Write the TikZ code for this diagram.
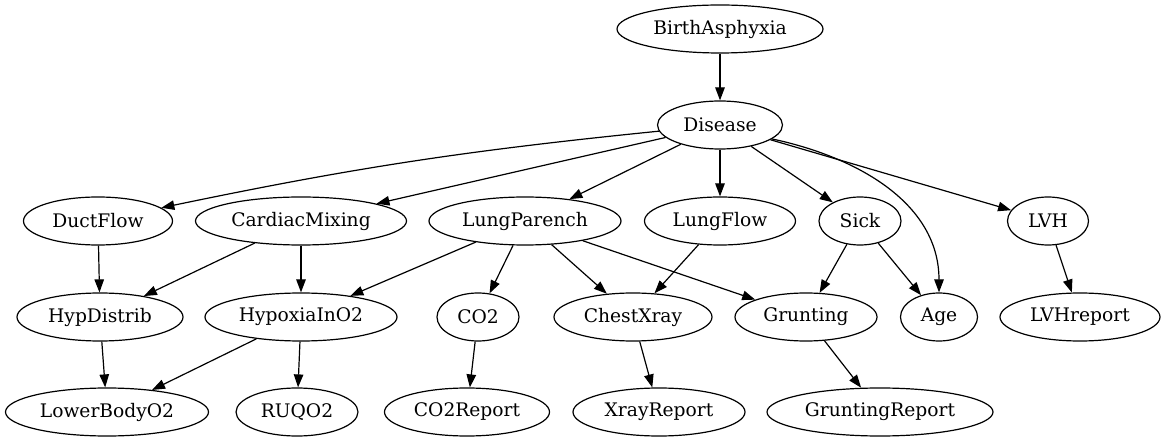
\documentclass[tikz,border=0pt]{standalone}
\usepackage{fontspec}
\setmainfont{DejaVu Serif}
\usetikzlibrary{shapes.geometric,arrows.meta}
\begin{document}
\begin{tikzpicture}[x=1pt,y=-1pt,
  nd/.style={draw, ellipse, inner sep=0pt, minimum height=48pt, font=\fontsize{18.67}{20}\selectfont, line width=1.2pt},
  ed/.style={draw, line width=1.2pt, -{Triangle[length=13pt,width=9.5pt]}}]
\useasboundingbox (0,0) rectangle (1164,443);
\node[nd, minimum width=206pt] (ba) at (720,29) {BirthAsphyxia};
\node[nd, minimum width=125pt] (dis) at (720,125) {Disease};
\node[nd, minimum width=149pt] (duct) at (98,221) {DuctFlow};
\node[nd, minimum width=211pt] (card) at (301,221) {CardiacMixing};
\node[nd, minimum width=192pt] (lp) at (525,221) {LungParench};
\node[nd, minimum width=151pt] (lf) at (720,221) {LungFlow};
\node[nd, minimum width=82pt] (sick) at (860,221) {Sick};
\node[nd, minimum width=81pt] (lvh) at (1048,221) {LVH};
\node[nd, minimum width=166pt] (hd) at (100,317) {HypDistrib};
\node[nd, minimum width=192pt] (hyp) at (301,317) {HypoxiaInO2};
\node[nd, minimum width=82pt] (co2) at (478,317) {CO2};
\node[nd, minimum width=158pt] (cx) at (633,317) {ChestXray};
\node[nd, minimum width=142pt] (gr) at (806,317) {Grunting};
\node[nd, minimum width=77pt] (age) at (939,317) {Age};
\node[nd, minimum width=160pt] (lvhr) at (1080,317) {LVHreport};
\node[nd, minimum width=203pt] (lb) at (107,412) {LowerBodyO2};
\node[nd, minimum width=122pt] (ruq) at (297,412) {RUQO2};
\node[nd, minimum width=165pt] (co2r) at (467,412) {CO2Report};
\node[nd, minimum width=172pt] (xr) at (659,412) {XrayReport};
\node[nd, minimum width=226pt] (grr) at (880,412) {GruntingReport};

\path[ed] (ba) -- (dis);
\path[ed] (dis) to[bend right=3] (duct);
\path[ed] (dis) -- (card);
\path[ed] (dis) -- (lp);
\path[ed] (dis) -- (lf);
\path[ed] (dis) -- (sick);
\path[ed] (dis) -- (lvh);
\path[ed] (dis.-15) to[out=-12, in=90] (age.north);
\path[ed] (duct) -- (hd);
\path[ed] (card) -- (hd);
\path[ed] (card) -- (hyp);
\path[ed] (lp) -- (hyp);
\path[ed] (lp) -- (co2);
\path[ed] (lp) -- (cx);
\path[ed] (lp) -- (gr);
\path[ed] (lf) -- (cx);
\path[ed] (sick) -- (gr);
\path[ed] (sick) -- (age);
\path[ed] (lvh) -- (lvhr);
\path[ed] (hd) -- (lb);
\path[ed] (hyp) -- (lb);
\path[ed] (hyp) -- (ruq);
\path[ed] (co2) -- (co2r);
\path[ed] (cx) -- (xr);
\path[ed] (gr) -- (grr);
\end{tikzpicture}
\end{document}
